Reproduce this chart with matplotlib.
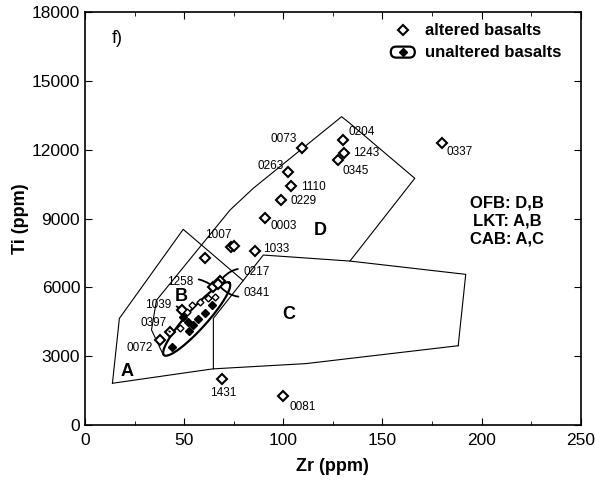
import numpy as np
import matplotlib.pyplot as plt
from matplotlib.patches import FancyBboxPatch
from matplotlib.transforms import ScaledTranslation

plt.rcParams['font.family'] = ['Liberation Sans', 'DejaVu Sans']

# altered basalts (open diamonds), sample numbers
alt_id = ['0073', '0204', '1243', '0345', '0337', '0263', '1110', '0229', '0003',
          '1007', '', '', '1033', '1431', '0081', '0072', '0397', '1039',
          '1258', '0217', '0341']
alt_zr = [109.2, 130.2, 130.7, 127.7, 180.1, 102.5, 103.8, 98.6, 90.7,
          73.4, 75.1, 60.5, 85.7, 68.9, 99.8, 37.8, 42.8, 48.7,
          64.7, 68.3, 67.0]
alt_ti = [12090, 12420, 11870, 11550, 12280, 11020, 10420, 9810, 9010,
          7770, 7800, 7270, 7600, 2030, 1270, 3700, 4070, 5010,
          6030, 6300, 6150]

# where the sample numbers are written
lab_zr = [100.3, 139.5, 142.0, 136.6, 189.0, 93.6, 115.1, 110.4, 100.3,
          67.2, None, None, 96.6, 69.7, 109.8, 27.7, 34.4, 36.9,
          47.9, 86.5, 86.8]
lab_ti = [12450, 12760, 11840, 11090, 11890, 11300, 10390, 9770, 8680,
          8280, None, None, 7670, 1410, 810, 3340, 4430, 5230,
          6250, 6660, 5770]

# small altered samples inside the unaltered group
small_zr = [53.7, 58.0, 62.1, 47.9, 51.2, 65.5]
small_ti = [5230, 5380, 5520, 4220, 4940, 5590]

# unaltered basalts (filled diamonds)
un_zr = [43.7, 52.6, 54.6, 57.1, 60.5, 51.8, 49.5, 63.9]
un_ti = [3390, 4100, 4360, 4610, 4900, 4500, 4720, 5230]

# discrimination fields (Pearce & Cann)
bottom_zr = [13.8, 64.3, 111.3, 188.2]
bottom_ti = [1824, 2450, 2680, 3460]
fieldA_zr = [13.8, 17.3, 49.5, 79.7]
fieldA_ti = [1824, 4651, 8531, 6300]
fieldC_zr = [188.2, 192.0, 133.6, 89.9, 64.7, 64.7]
fieldC_ti = [3460, 6570, 7149, 7411, 4650, 2450]
fieldD_zr = [39.5, 33.5, 36.0, 73.1, 84.8, 129.4, 133.6, 166.3, 133.6]
fieldD_ti = [3050, 4150, 5440, 9372, 10318, 13440, 13150, 10754, 7149]

# ends of the loop round the unaltered group
loop_zr = [39.8, 72.8]
loop_ti = [3050, 6200]

fig = plt.figure(figsize=(5.95, 4.82), dpi=100)
ax = fig.add_axes([0.143, 0.118, 0.833, 0.857])
ax.set_xlim(0, 250)
ax.set_ylim(0, 18000)

lw = 0.8
ax.plot(bottom_zr, bottom_ti, color='k', lw=lw)
ax.plot(fieldA_zr, fieldA_ti, color='k', lw=lw)
ax.plot(fieldC_zr, fieldC_ti, color='k', lw=lw)
ax.plot(fieldD_zr, fieldD_ti, color='k', lw=lw)

# loop drawn in display space so it looks like a proper ellipse
p = ax.transData.transform(np.column_stack([loop_zr, loop_ti]))
c = p.mean(axis=0)
d = p[1] - p[0]
half = np.linalg.norm(d) / 2
u = d / np.linalg.norm(d)
v = np.array([-u[1], u[0]])
t = np.linspace(0, 2 * np.pi, 200)
pts = c + np.outer(half * np.cos(t), u) + np.outer(10 * np.sin(t), v)
pts = ax.transData.inverted().transform(pts)
ax.plot(pts[:, 0], pts[:, 1], color='k', lw=1.6)

ax.plot(alt_zr, alt_ti, 'D', ms=5.5, mfc='white', mec='k', mew=1.5, ls='none', zorder=3)
ax.plot(small_zr, small_ti, 'D', ms=3.5, mfc='white', mec='k', mew=1.0, ls='none', zorder=3)
ax.plot(un_zr, un_ti, 'D', ms=4, color='k', ls='none', zorder=3)

leaders = {'1258': 'arc3,rad=-0.3', '0217': 'arc3,rad=0.4',
           '0341': 'arc3,rad=-0.4', '1039': 'arc3,rad=-0.3',
           '0397': 'arc3,rad=0.0'}
for name, zx, ty, lx, ly in zip(alt_id, alt_zr, alt_ti, lab_zr, lab_ti):
    if not name:
        continue
    if name in leaders:
        ax.annotate(name, xy=(zx, ty), xytext=(lx, ly), fontsize=8.5,
                    ha='center', va='center',
                    arrowprops=dict(arrowstyle='-', lw=1.3, color='k',
                                    shrinkA=2, shrinkB=3,
                                    connectionstyle=leaders[name]))
    else:
        ax.text(lx, ly, name, fontsize=8.5, ha='center', va='center')

for s, x, y in [('A', 21, 2320), ('B', 48.7, 5590), ('C', 102.8, 4800), ('D', 118.8, 8500)]:
    ax.text(x, y, s, fontsize=13, fontweight='bold', ha='center', va='center')

ax.text(0.064, 0.936, 'f)', transform=ax.transAxes, fontsize=13, ha='center', va='center')

for i, s in enumerate(['OFB: D,B', 'LKT: A,B', 'CAB: A,C']):
    ax.text(0.852, 0.5375 - 0.044 * i, s, transform=ax.transAxes, fontsize=12,
            fontweight='bold', ha='center', va='center')

# legend
ax.plot(0.642, 0.956, 'D', ms=5.5, mfc='white', mec='k', mew=1.5, transform=ax.transAxes)
ax.text(0.685, 0.956, 'altered basalts', transform=ax.transAxes, fontsize=12,
        fontweight='bold', va='center')
box = FancyBboxPatch((-0.12, -0.055), 0.24, 0.11,
                     boxstyle='round,pad=0,rounding_size=0.055',
                     fc='white', ec='k', lw=1.6,
                     transform=fig.dpi_scale_trans + ScaledTranslation(0.641, 0.903, ax.transAxes))
ax.add_patch(box)
ax.plot(0.641, 0.903, 'D', ms=4, color='k', transform=ax.transAxes)
ax.text(0.685, 0.903, 'unaltered basalts', transform=ax.transAxes, fontsize=12,
        fontweight='bold', va='center')

ax.set_xticks(np.arange(0, 251, 50))
ax.set_xticks(np.arange(0, 251, 25), minor=True)
ax.set_yticks(np.arange(0, 18001, 3000))
ax.tick_params(which='both', direction='in', top=True, right=True, labelsize=12.5)
ax.tick_params(axis='x', which='major', pad=6)
ax.tick_params(which='major', length=5)
ax.tick_params(which='minor', length=3)
for sp in ax.spines.values():
    sp.set_linewidth(1.2)

ax.set_xlabel('Zr (ppm)', fontsize=13, fontweight='bold', labelpad=7)
ax.set_ylabel('Ti (ppm)', fontsize=13, fontweight='bold', labelpad=2)

fig.savefig('out.png', dpi=100)
